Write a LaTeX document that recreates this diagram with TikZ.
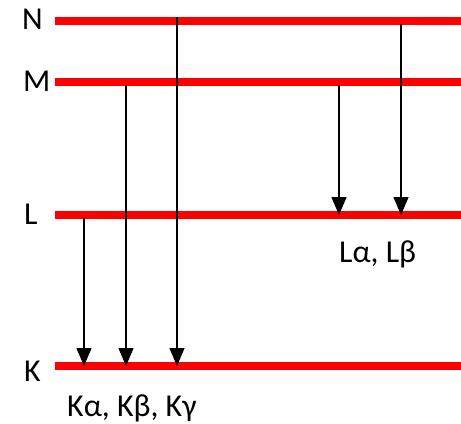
\documentclass[tikz,border=0pt]{standalone}
\usepackage{fontspec}
\setmainfont{Carlito}
\usetikzlibrary{arrows.meta}
\begin{document}
\begin{tikzpicture}[x=1bp,y=-1bp,
  level/.style={draw=red, line width=7.5bp},
  trans/.style={draw=black, line width=1.4bp, -{Triangle[width=15bp,length=18bp]}},
  lbl/.style={font=\fontsize{32}{38}\selectfont, inner sep=0pt, anchor=base west}]
\useasboundingbox (0,0) rectangle (461,423);
% level lines
\coordinate (N0) at (55,21);  \coordinate (N1) at (461,21);
\coordinate (M0) at (55,82);  \coordinate (M1) at (461,82);
\coordinate (L0) at (55,215); \coordinate (L1) at (461,215);
\coordinate (K0) at (55,366); \coordinate (K1) at (461,366);
\path[level] (N0) -- (N1);
\path[level] (M0) -- (M1);
\path[level] (L0) -- (L1);
\path[level] (K0) -- (K1);
% labels
\node[lbl] (Nlab) at (22,29) {N};
\node[lbl] (Mlab) at (23,91) {M};
\node[lbl] (Llab) at (24,224) {L};
\node[lbl] (Klab) at (24,381) {K};
\node[lbl] (Lser) at (339,262) {Lα, Lβ};
\node[lbl] (Kser) at (67,416) {Kα, Kβ, Kγ};
% transitions to K
\coordinate (a1) at (84,218);  \coordinate (a1e) at (84,366);
\coordinate (a2) at (126,85);  \coordinate (a2e) at (126,366);
\coordinate (a3) at (177,17);  \coordinate (a3e) at (177,366);
\path[trans] (a1) -- (a1e);
\path[trans] (a2) -- (a2e);
\path[trans] (a3) -- (a3e);
% transitions to L
\coordinate (b1) at (339,85);  \coordinate (b1e) at (339,215);
\coordinate (b2) at (401,24);  \coordinate (b2e) at (401,215);
\path[trans] (b1) -- (b1e);
\path[trans] (b2) -- (b2e);
\end{tikzpicture}
\end{document}
